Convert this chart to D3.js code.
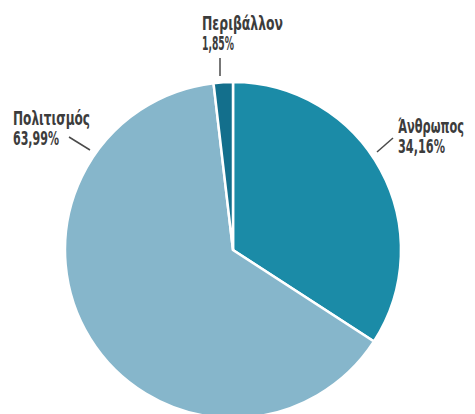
<!DOCTYPE html>
<html>
<head>
<meta charset="utf-8">
<script src="https://cdn.jsdelivr.net/npm/d3@7"></script>
<style>
  body { margin: 0; background: #fff; }
  text { font-family: "DejaVu Sans Condensed", "DejaVu Sans", sans-serif; font-weight: 600; fill: #3c3c3c; font-size: 19px; }
</style>
</head>
<body>
<div class="pie"></div>
<script>
// data
const categories = ["Άνθρωπος", "Πολιτισμός", "Περιβάλλον"];
const shares = [34.16, 63.99, 1.85];
const shareLabels = ["34,16%", "63,99%", "1,85%"];
const sliceColors = ["#1b8ba7", "#86b6cb", "#136f8c"];

const width = 475, height = 414;
const cx = 233, cy = 250, radius = 168;

const svg = d3.select(".pie").append("svg")
    .attr("width", width)
    .attr("height", height);

const gPie = svg.append("g").attr("transform", `translate(${cx},${cy})`);

const pie = d3.pie().sort(null).value(d => d);
const arc = d3.arc().innerRadius(0).outerRadius(radius);

gPie.selectAll("path")
    .data(pie(shares))
    .enter()
    .append("path")
    .attr("d", arc)
    .attr("fill", (d, i) => sliceColors[i])
    .attr("stroke", "#fff")
    .attr("stroke-width", 2.5)
    .attr("stroke-linejoin", "miter");

// labels with short leader lines (placed by hand, like the original)
// the original uses a narrow condensed face, so squeeze the text to its widths
const labelSpots = [
    {x: 398, y: 133, w: [66, 47], line: [377, 152, 393, 138]},
    {x: 13, y: 125, w: [77, 46], line: [69, 137, 90, 150]},
    {x: 202, y: 30, w: [81, 32], line: [220, 58, 220, 76]}
];

const gLabels = svg.append("g");
categories.forEach((name, i) => {
    const spot = labelSpots[i];
    const t = gLabels.append("text").attr("x", spot.x).attr("y", spot.y);
    t.append("tspan").attr("x", spot.x)
        .attr("textLength", spot.w[0]).attr("lengthAdjust", "spacingAndGlyphs")
        .text(name);
    t.append("tspan").attr("x", spot.x).attr("dy", 20)
        .attr("textLength", spot.w[1]).attr("lengthAdjust", "spacingAndGlyphs")
        .text(shareLabels[i]);
    gLabels.append("line")
        .attr("x1", spot.line[0]).attr("y1", spot.line[1])
        .attr("x2", spot.line[2]).attr("y2", spot.line[3])
        .attr("stroke", "#4a4a4a")
        .attr("stroke-width", 1.5);
});
</script>
</body>
</html>
